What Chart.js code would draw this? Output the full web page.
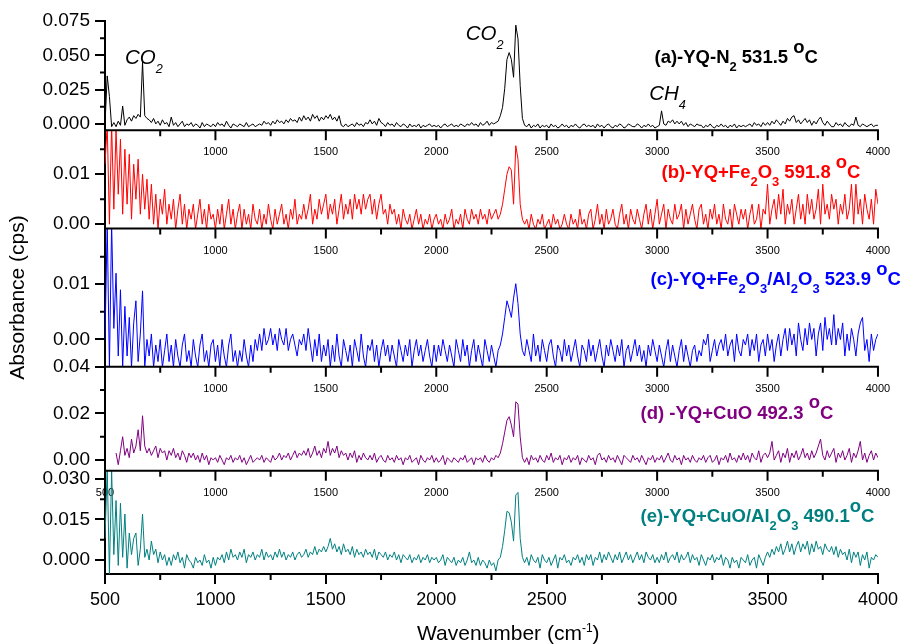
<!DOCTYPE html>
<html>
<head>
<meta charset="utf-8">
<title>FTIR spectra</title>
<script src="https://cdn.jsdelivr.net/npm/chart.js@4.4.1/dist/chart.umd.min.js"></script>
<style>
  html, body { margin: 0; padding: 0; background: #fff; }
  canvas { display: block; }
</style>
</head>
<body>
<canvas id="spectra" width="903" height="644"></canvas>
<script>
// Wavenumber grid (cm-1), one row per 100 cm-1
const wavenumbers = [
  500, 510, 520, 530, 540, 550, 560, 570, 580, 590,
  600, 610, 620, 630, 640, 650, 660, 670, 680, 690,
  700, 710, 720, 730, 740, 750, 760, 770, 780, 790,
  800, 810, 820, 830, 840, 850, 860, 870, 880, 890,
  900, 910, 920, 930, 940, 950, 960, 970, 980, 990,
  1000, 1010, 1020, 1030, 1040, 1050, 1060, 1070, 1080, 1090,
  1100, 1110, 1120, 1130, 1140, 1150, 1160, 1170, 1180, 1190,
  1200, 1210, 1220, 1230, 1240, 1250, 1260, 1270, 1280, 1290,
  1300, 1310, 1320, 1330, 1340, 1350, 1360, 1370, 1380, 1390,
  1400, 1410, 1420, 1430, 1440, 1450, 1460, 1470, 1480, 1490,
  1500, 1510, 1520, 1530, 1540, 1550, 1560, 1570, 1580, 1590,
  1600, 1610, 1620, 1630, 1640, 1650, 1660, 1670, 1680, 1690,
  1700, 1710, 1720, 1730, 1740, 1750, 1760, 1770, 1780, 1790,
  1800, 1810, 1820, 1830, 1840, 1850, 1860, 1870, 1880, 1890,
  1900, 1910, 1920, 1930, 1940, 1950, 1960, 1970, 1980, 1990,
  2000, 2010, 2020, 2030, 2040, 2050, 2060, 2070, 2080, 2090,
  2100, 2110, 2120, 2130, 2140, 2150, 2160, 2170, 2180, 2190,
  2200, 2210, 2220, 2230, 2240, 2250, 2260, 2270, 2280, 2290,
  2300, 2310, 2320, 2330, 2340, 2350, 2360, 2370, 2380, 2390,
  2400, 2410, 2420, 2430, 2440, 2450, 2460, 2470, 2480, 2490,
  2500, 2510, 2520, 2530, 2540, 2550, 2560, 2570, 2580, 2590,
  2600, 2610, 2620, 2630, 2640, 2650, 2660, 2670, 2680, 2690,
  2700, 2710, 2720, 2730, 2740, 2750, 2760, 2770, 2780, 2790,
  2800, 2810, 2820, 2830, 2840, 2850, 2860, 2870, 2880, 2890,
  2900, 2910, 2920, 2930, 2940, 2950, 2960, 2970, 2980, 2990,
  3000, 3010, 3020, 3030, 3040, 3050, 3060, 3070, 3080, 3090,
  3100, 3110, 3120, 3130, 3140, 3150, 3160, 3170, 3180, 3190,
  3200, 3210, 3220, 3230, 3240, 3250, 3260, 3270, 3280, 3290,
  3300, 3310, 3320, 3330, 3340, 3350, 3360, 3370, 3380, 3390,
  3400, 3410, 3420, 3430, 3440, 3450, 3460, 3470, 3480, 3490,
  3500, 3510, 3520, 3530, 3540, 3550, 3560, 3570, 3580, 3590,
  3600, 3610, 3620, 3630, 3640, 3650, 3660, 3670, 3680, 3690,
  3700, 3710, 3720, 3730, 3740, 3750, 3760, 3770, 3780, 3790,
  3800, 3810, 3820, 3830, 3840, 3850, 3860, 3870, 3880, 3890,
  3900, 3910, 3920, 3930, 3940, 3950, 3960, 3970, 3980, 3990,
  4000
];

// Absorbance in 10^-3 cps, same row layout as the grid

// (a) YQ-N2, 531.5 C
const absN2 = [
  0, 35, 20, -2, 1, -2, 2, -1, 13, -1,
  3, 5, 2, 6, 4, 7, 5, 45, 6, 4,
  3, 1, 4, 0, 2, -1, 3, 0, 1, -2,
  5, -1, 1, -2, 0, 2, -2, 0, -1, 1,
  -2, 0, -1, -3, 1, -2, 0, -1, -2, 0,
  -2, 1, -1, 0, -2, 2, -1, -3, 0, -1,
  -2, 0, -1, -2, 1, -2, -1, 0, -2, -1,
  0, -1, 2, 0, 1, -1, 2, 0, 3, 1,
  2, 0, 3, 1, 4, 2, 3, 1, 5, 2,
  6, 3, 5, 2, 7, 4, 6, 2, 5, 3,
  6, 4, 7, 3, 5, 2, 6, -1, -2, 0,
  -2, -1, 0, -2, 1, -1, 0, -2, 1, 0,
  3, 0, 2, -1, 4, 1, 0, -2, 1, -1,
  0, -2, 1, -1, -2, 0, -1, -3, 0, -2,
  -1, -2, 0, -3, -1, -2, -1, 0, -2, -1,
  -2, -1, -3, -1, 0, -2, -1, 0, -2, -1,
  -2, 0, -1, -2, 0, -1, 1, -1, 0, -2,
  1, -1, 0, 2, -1, 1, 0, 1, 2, 6,
  12, 26, 47, 52, 47, 34, 72, 62, 28, 4,
  -1, -2, 0, -3, -1, -2, 0, -3, -1, -2,
  -1, -3, 0, -2, -1, -3, -2, 0, -2, -1,
  -3, -1, -2, 0, -2, -3, -1, 0, -2, -1,
  -2, -1, -3, 0, -2, -1, -3, -1, 0, -2,
  -3, -1, -2, 0, -1, -3, -2, 0, -1, -2,
  -2, 0, -1, -3, -1, -2, 0, -2, -1, -3,
  -2, -1, 9.5, 0, -1, 2, 1, 3, 0, 2,
  0, 2, -1, 1, -2, 0, -1, -2, 0, -1,
  -1, -3, -1, -2, 0, -2, -3, -1, -2, 0,
  -2, -1, -3, -1, -2, 0, -3, -1, -2, -1,
  -2, -1, 0, -2, 1, -1, 0, -2, 1, -1,
  1, -1, 2, 0, 3, 1, -1, 2, 0, 4,
  2, 5, 6, 1, 3, 0, 2, 4, 1, 3,
  -1, 2, 0, 3, 5, 1, -1, 2, 0, -2,
  -2, 1, -1, 0, -2, 1, -1, -2, 0, -1,
  5, -1, -2, 0, -1, -2, -1, 0, -2, -1,
  -1
];

// (b) YQ+Fe2O3, 591.8 C
const absFe2O3 = [
  12, 20, 0, 20, 3, 19, 6, 17, 2, 15,
  4, 14, 1, 12, 5, 13, 2, 10, 3, 9,
  1, 8, 0, 6, -1, 5, 2, 7, 0, 4,
  1, 5, -1, 3, 6, 0, 4, -1, 3, 1,
  4, -1, 2, 5, 0, 3, -1, 4, 1, 2,
  -1, 3, 0, 4, -1, 2, 5, 0, 3, -1,
  2, 4, -1, 3, 0, 2, -1, 4, 1, 0,
  3, -1, 2, 0, 4, 1, -1, 3, 0, 2,
  4, 0, 2, -1, 3, 1, 5, 0, 2, 1,
  4, 1, 3, 6, 0, 3, 1, 5, 2, 4,
  6, 1, 4, 2, 5, 0, 3, 6, 1, 4,
  2, 5, 1, 6, 3, 5, 2, 6, 3, 5,
  6, 2, 5, 1, 4, 6, 2, 3, 0, 4,
  2, 3, 0, 2, -1, 3, 1, 0, 2, -1,
  1, 3, 0, 2, -1, 1, 0, 2, -1, 1,
  2, 0, 1, -1, 2, 0, 1, 3, -1, 1,
  0, 2, -1, 3, 1, 0, 3, 1, 2, 0,
  3, 1, 2, 0, 3, 1, 2, 3, 1, 2,
  4, 7, 10, 11.5, 10.8, 4, 15.7, 13, 4, 1,
  0, 1, -1, 2, 0, -1, 1, 0, 2, -1,
  0, 1, -1, 2, 0, 1, -1, 0, 2, 0,
  -1, 2, 0, 1, -1, 3, 0, 1, -1, 2,
  3, -1, 1, 4, 0, 2, -1, 3, 0, 1,
  3, 0, -1, 2, 4, 0, 2, -1, 3, 1,
  0, 3, 1, -1, 2, 4, 0, 3, -1, 2,
  5, 0, 2, 4, -1, 3, 1, 0, 4, 1,
  2, 4, -1, 3, 0, 2, 4, 1, -1, 3,
  4, 0, 2, -1, 3, 1, 4, 0, 2, -1,
  4, 1, 0, 3, -1, 4, 2, 0, 3, 1,
  3, -1, 2, 4, 0, 1, 4, -1, 3, 2,
  8, 0, 3, 5, 1, 6, 2, 7, 0, 4,
  2, 5, 0, 3, 6, 1, 4, 0, 6, 2,
  5, 1, 3, 7, 0, 8, 2, 4, 1, 6,
  3, 5, 0, 4, 2, 6, 1, 3, 8, 0,
  8, 2, 5, 0, 6, 3, 1, 5, 0, 7,
  4
];

// (c) YQ+Fe2O3/Al2O3, 523.9 C
const absFe2O3Al2O3 = [
  0, 21, -5, 21, 2, 12, -3, 9, -5, 6,
  -3, 4, -5, 3, 7, -4, 1, 8.8, -5, 0,
  -3, 1, -5, -1, -4, 0, -5, -2, 1, -4,
  -1, -5, 0, -3, -5, -1, 1, -4, -2, -5,
  0, -3, -5, -1, 1, -4, -2, -5, -1, 0,
  -4, -1, -5, 0, -3, -5, -1, 1, -4, -2,
  -5, -2, -4, 0, -3, -5, -1, -4, 0, -2,
  1, -2, 2, -1, 0, 2, -1, 1, -2, 2,
  0, -1, 2, -2, 0, 1, -1, -3, 0, -1,
  1, -2, 2, -1, -4, 0, -3, 1, -4, -1,
  -3, 0, -5, -1, -4, 1, -3, -5, 0, -2,
  -4, -1, -5, 0, -2, -4, 1, -3, -5, -1,
  -2, 0, -4, -1, -5, -2, 0, -3, -1, -4,
  -1, -3, -5, 0, -2, -4, -1, -3, 0, -5,
  -2, 0, -3, -1, -4, -2, 0, -3, -5, -1,
  -4, -1, -3, 0, -2, -4, -1, -3, -5, 0,
  -2, -4, 0, -3, -1, -5, -2, 0, -4, -1,
  -3, -5, 0, -2, -4, -1, -3, -5, -2, -1,
  1, 4, 7, 5.6, 4, 7.5, 10.1, 6.5, 1, -2,
  -3, 0, -2, -4, 1, -3, -1, -4, 0, -2,
  -4, -1, 0, -3, -5, -1, -2, -4, 0, -3,
  -1, -4, -2, 0, -3, -5, -1, -2, -4, 0,
  -3, -1, -4, -2, 0, -3, -5, -1, -3, 0,
  -2, -4, -1, -3, 0, -5, -2, -1, -4, -2,
  0, -3, -1, -4, -2, -5, -1, -3, 0, -2,
  -4, -1, -3, -5, -2, 0, -4, -1, -3, -5,
  -2, 0, -4, -1, -3, -5, -2, -1, -4, -2,
  -3, 0, -1, 1, -4, -2, 0, -3, -1, 0,
  -2, 1, -3, -1, 0, -4, 1, -2, -3, 0,
  -1, 1, -3, 0, -2, 1, -4, -1, 0, -3,
  1, -2, 0, -4, -1, 1, -3, 0, 2, -2,
  2, -1, 1, -3, 3, 0, -2, 2, -1, 3,
  0, 2, -3, 1, 3, -2, 4, 0, 2, -1,
  4.5, -1, 2, 0, 3, -3, 1, -2, 2, 0,
  -3, 1, 3, 4, -2, 0, -4, 1, -2, 0,
  1
];

// (d) YQ+CuO, 492.3 C (trace starts near 545 cm-1)
const absCuO = [
  null, null, null, null, null, 3, -2, 4, 10, 2,
  5, 1, 9, 3, 6, 13, 4, 19, 6, 3,
  5, 2, 4, 6, 1, 5, 3, 4, 0, 4,
  2, 5, 1, 3, 0, 4, 2, -1, 3, 1,
  3, 0, 2, -1, 3, 0, 2, -2, 1, 0,
  1, -1, 2, 0, -2, 1, 0, 2, -1, 1,
  0, 2, -1, 1, -2, 0, 2, -1, 0, 1,
  0, 2, -1, 1, 0, -1, 2, 0, 1, 3,
  0, 2, 1, 3, 0, 2, 4, 1, 3, 2,
  4, 2, 5, 1, 3, 6, 2, 4, 1, 5,
  3, 8, 2, 5, 3, 6, 1, 4, 2, 3,
  0, 3, 1, 4, -1, 2, 0, 3, 1, 0,
  2, 0, 3, -1, 1, 2, 0, -1, 2, 0,
  1, -1, 2, 0, 1, -2, 1, 0, 2, -1,
  0, 1, -2, 2, 0, -1, 1, 0, 2, -1,
  1, -1, 0, 2, -2, 1, 0, -1, 1, 0,
  -1, 1, 0, 2, -1, 0, 1, -2, 1, 0,
  1, -1, 2, 0, -1, 1, 0, 2, 1, 3,
  7, 12, 17, 18.6, 15, 10, 25, 24, 10, 1,
  -1, 1, -2, 2, 0, 1, -1, 2, 0, -1,
  2, 0, 3, -1, 1, 0, 2, -2, 1, 0,
  2, -1, 1, 0, 2, -2, 1, 0, -1, 2,
  0, 1, -2, 2, 3, 0, 1, -1, 2, 0,
  1, -1, 2, 0, -2, 2, 1, 0, -1, 2,
  0, 1, -1, 2, 0, -2, 1, 0, 2, -1,
  1, 0, 2, -1, 1, 3, 0, -1, 2, 0,
  1, -2, 2, 0, 1, -1, 2, 0, -1, 1,
  0, 2, -1, 1, 2, -1, 0, 2, -2, 1,
  0, 2, -1, 3, 0, 1, -1, 2, 0, 3,
  0, 2, -1, 3, 1, 0, 4, -1, 2, 3,
  1, 3, 8, 0, 2, 4, -1, 3, 1, 5,
  -1, 3, 1, 4, 0, 2, 5, 1, 3, 0,
  4, 1, 3, 6, 9, 2, 0, 4, 1, 3,
  5, -1, 3, 1, 4, 0, 2, 5, -1, 3,
  1, 4, 8, 0, 3, -1, 2, 4, 0, 3,
  1
];

// (e) YQ+CuO/Al2O3, 490.1 C
const absCuOAl2O3 = [
  8, 34, -5, 33, 2, 22, -2, 21, 1, 17,
  -3, 10, 2, 8, 10, -2, 4, 17, 1, 4,
  0, 7, 2, 4, -1, 3, 0, 2, -2, 1,
  -2, 2, 0, 3, -1, 1, -3, 2, 0, -1,
  -3, 1, -1, 0, -2, 2, -1, 0, -3, 1,
  -2, 1, 0, 2, -1, 3, 0, 4, 1, 2,
  0, 3, 1, 4, -1, 2, 1, 3, 0, 2,
  1, 4, 0, 3, 1, 2, 0, 3, 1, 4,
  1, 3, 0, 2, 1, 3, 0, 2, 3, 1,
  2, 4, 1, 3, 2, 5, 2, 4, 3, 5,
  3, 5, 8, 4, 6, 3, 5, 2, 6, 3,
  4, 2, 5, 1, 4, 2, 3, 1, 4, 2,
  3, 1, 4, 0, 3, 2, 1, 3, 0, 2,
  1, 3, 0, 2, -1, 2, 1, 0, 2, -1,
  1, 0, 2, -1, 1, 0, 2, -1, 1, 0,
  1, -1, 0, 2, -2, 1, 0, -1, 1, -2,
  0, -1, 1, -2, 0, 3, -1, 0, -2, 1,
  -2, 0, -1, -3, 0, -2, -1, -4, 0, 1,
  5, 11, 18, 17.5, 14, 7, 24, 25, 8, 1,
  -1, 1, -2, 2, 0, -1, 1, -3, 2, 0,
  -1, 1, -2, 0, 2, -3, 1, 0, 2, -1,
  0, -2, 1, 0, 2, -1, 1, -2, 2, 0,
  2, -2, 1, 0, 3, -1, 2, 0, 3, 1,
  -1, 2, 0, 3, -1, 1, 3, 0, 2, -1,
  1, 3, 0, 2, -1, 3, 1, 0, 2, -1,
  1, -1, 2, 0, 3, -1, 1, 2, 0, 3,
  -1, 2, 0, 1, 3, -1, 2, 0, 1, -2,
  2, 0, -2, 1, 0, 2, -1, 1, 0, 2,
  -2, 1, 0, -3, 1, -1, 0, -3, 1, 0,
  -1, 2, -2, 0, 1, -3, 2, 0, -2, 1,
  3, 1, 4, 2, 5, 3, 6, 2, 4, 7,
  3, 6, 2, 5, 7, 3, 6, 4, 7, 2,
  6, 3, 7, 4, 5, 2, 6, 4, 3, 5,
  2, 5, 1, 4, 2, 3, 0, 4, -1, 3,
  1, 3, -2, 2, 0, 3, -3, 1, 0, 2,
  1
];

// axis ticks (y values in 10^-3 cps)
const xMajorTicks = [500, 1000, 1500, 2000, 2500, 3000, 3500, 4000];
const xMinorTicks = [750, 1250, 1750, 2250, 2750, 3250, 3750];
const yTicksA = [0, 25, 50, 75];
const yMinorA = [12.5, 37.5, 62.5];
const yTicksB = [0, 10];
const yMinorB = [5, 15];
const yTicksC = [0, 10];
const yMinorC = [5, 15];
const yTicksD = [0, 20, 40];
const yMinorD = [10, 30];
const yTicksE = [0, 15, 30];
const yMinorE = [7.5, 22.5];

const FONT = '"Liberation Sans", Arial, Helvetica, sans-serif';
Chart.defaults.font.family = FONT;
Chart.defaults.color = '#000';

const series = [
  { label: 'YQ-N2', data: absN2, axis: 'yA', color: '#000000' },
  { label: 'YQ+Fe2O3', data: absFe2O3, axis: 'yB', color: '#ff0000' },
  { label: 'YQ+Fe2O3/Al2O3', data: absFe2O3Al2O3, axis: 'yC', color: '#0000ff' },
  { label: 'YQ+CuO', data: absCuO, axis: 'yD', color: '#800080' },
  { label: 'YQ+CuO/Al2O3', data: absCuOAl2O3, axis: 'yE', color: '#008080' }
];

// one y axis per panel, stacked top to bottom (higher weight sits higher)
function panelAxis(min, max, majors, decimals, weight, stackWeight) {
  return {
    type: 'linear',
    position: 'left',
    stack: 'panels',
    stackWeight: stackWeight,
    weight: weight,
    min: min,
    max: max,
    afterBuildTicks: s => { s.ticks = majors.map(v => ({ value: v })); },
    afterFit: s => { s.width = 105; },
    ticks: {
      autoSkip: false,
      padding: 5,
      color: '#000',
      font: { size: 19 },
      callback: v => (v / 1000).toFixed(decimals)
    },
    grid: { drawOnChartArea: false, tickLength: 10, color: '#000', lineWidth: 2 },
    border: { color: '#000', width: 2 }
  };
}

// text with sub/superscripts, drawn piece by piece
function drawRich(ctx, parts, x, y, size, style, color, subScale, subDrop) {
  let cx = x;
  ctx.fillStyle = color;
  ctx.textAlign = 'left';
  ctx.textBaseline = 'alphabetic';
  for (const [text, kind] of parts) {
    const fs = kind === 'sub' ? size * subScale : size;
    ctx.font = `${style} ${fs}px ${FONT}`;
    let dy = 0;
    if (kind === 'sub') dy = subDrop;
    if (kind === 'sup') dy = -size * 0.55;
    ctx.fillText(text, cx, y + dy);
    cx += ctx.measureText(text).width;
  }
}

const panelTitles = [
  { axis: 'yA', at: [2988, 44.3], color: '#000000',
    parts: [['(a)-YQ-N'], ['2', 'sub'], [' 531.5 '], ['o', 'sup'], ['C']] },
  { axis: 'yB', at: [3020, 9.3], color: '#ff0000',
    parts: [['(b)-YQ+Fe'], ['2', 'sub'], ['O'], ['3', 'sub'], [' 591.8 '], ['o', 'sup'], ['C']] },
  { axis: 'yC', at: [2970, 9.8], color: '#0000ff',
    parts: [['(c)-YQ+Fe'], ['2', 'sub'], ['O'], ['3', 'sub'], ['/Al'], ['2', 'sub'], ['O'], ['3', 'sub'], [' 523.9 '], ['o', 'sup'], ['C']] },
  { axis: 'yD', at: [2925, 17.8], color: '#800080',
    parts: [['(d) -YQ+CuO 492.3 '], ['o', 'sup'], ['C']] },
  { axis: 'yE', at: [2925, 14.1], color: '#008080',
    parts: [['(e)-YQ+CuO/Al'], ['2', 'sub'], ['O'], ['3', 'sub'], [' 490.1'], ['o', 'sup'], ['C']] }
];

const bandNotes = [
  { at: [590, 44], parts: [['CO'], ['2', 'sub']] },
  { at: [2133, 61.5], parts: [['CO'], ['2', 'sub']] },
  { at: [2964, 17.3], parts: [['CH'], ['4', 'sub']] }
];

const innerAxes = ['yA', 'yB', 'yC', 'yD'];
const allAxes = ['yA', 'yB', 'yC', 'yD', 'yE'];
const minorByAxis = { yA: yMinorA, yB: yMinorB, yC: yMinorC, yD: yMinorD, yE: yMinorE };

const panelDecor = {
  id: 'panelDecor',
  beforeDatasetsDraw(chart) {
    // small wavenumber labels under each inner axis, traces go over them
    const { ctx } = chart;
    const x = chart.scales.x;
    ctx.save();
    ctx.font = `11px ${FONT}`;
    ctx.fillStyle = '#000';
    ctx.textAlign = 'center';
    ctx.textBaseline = 'middle';
    innerAxes.forEach(id => {
      const yb = chart.scales[id].bottom;
      xMajorTicks.forEach(v => {
        if (v === 500 && id !== 'yD') return;
        ctx.fillText(String(v), x.getPixelForValue(v), yb + 22);
      });
    });
    ctx.restore();
  },
  beforeDatasetDraw(chart, args) {
    const ys = args.meta.yScale;
    const area = chart.chartArea;
    chart.ctx.save();
    chart.ctx.beginPath();
    chart.ctx.rect(area.left, ys.top, area.right - area.left, ys.bottom - ys.top);
    chart.ctx.clip();
  },
  afterDatasetDraw(chart) {
    chart.ctx.restore();
  },
  afterDatasetsDraw(chart) {
    const { ctx, chartArea } = chart;
    const x = chart.scales.x;
    ctx.save();
    ctx.strokeStyle = '#000';
    ctx.lineWidth = 2;

    // inner x axes with their tick marks
    innerAxes.forEach(id => {
      const yb = chart.scales[id].bottom;
      ctx.beginPath();
      ctx.moveTo(chartArea.left - 1, yb);
      ctx.lineTo(chartArea.right + 1, yb);
      xMajorTicks.forEach(v => {
        const px = x.getPixelForValue(v);
        ctx.moveTo(px, yb);
        ctx.lineTo(px, yb + 10);
      });
      ctx.stroke();
    });

    // minor x ticks on every panel
    allAxes.forEach(id => {
      const yb = chart.scales[id].bottom;
      ctx.beginPath();
      xMinorTicks.forEach(v => {
        const px = x.getPixelForValue(v);
        ctx.moveTo(px, yb);
        ctx.lineTo(px, yb + 6);
      });
      ctx.stroke();
    });

    // minor y ticks
    allAxes.forEach(id => {
      const ys = chart.scales[id];
      ctx.beginPath();
      minorByAxis[id].forEach(v => {
        const py = ys.getPixelForValue(v);
        ctx.moveTo(chartArea.left - 5, py);
        ctx.lineTo(chartArea.left, py);
      });
      ctx.stroke();
    });

    // panel captions
    panelTitles.forEach(t => {
      const px = x.getPixelForValue(t.at[0]);
      const py = chart.scales[t.axis].getPixelForValue(t.at[1]);
      drawRich(ctx, t.parts, px, py, 18.5, 'bold', t.color, 0.7, 8);
    });

    // band assignments in panel (a)
    bandNotes.forEach(n => {
      const px = x.getPixelForValue(n.at[0]);
      const py = chart.scales.yA.getPixelForValue(n.at[1]);
      drawRich(ctx, n.parts, px, py, 20.5, 'italic', '#000', 0.62, 9);
    });

    // axis titles
    ctx.fillStyle = '#000';
    ctx.font = `21px ${FONT}`;
    ctx.save();
    ctx.translate(18, (chartArea.top + chartArea.bottom) / 2);
    ctx.rotate(-Math.PI / 2);
    ctx.textAlign = 'center';
    ctx.textBaseline = 'middle';
    ctx.fillText('Absorbance (cps)', 0, 0);
    ctx.restore();

    const tx = chartArea.left + 312;
    const ty = chart.height - 4;
    ctx.textAlign = 'left';
    ctx.textBaseline = 'alphabetic';
    ctx.font = `21px ${FONT}`;
    ctx.fillText('Wavenumber (cm', tx, ty);
    let cx = tx + ctx.measureText('Wavenumber (cm').width;
    ctx.font = `12px ${FONT}`;
    ctx.fillText('-1', cx, ty - 8);
    cx += ctx.measureText('-1').width;
    ctx.font = `21px ${FONT}`;
    ctx.fillText(')', cx, ty);
    ctx.restore();
  }
};

new Chart(document.getElementById('spectra'), {
  type: 'line',
  data: {
    datasets: series.map(s => ({
      label: s.label,
      data: wavenumbers.map((w, i) => ({ x: w, y: s.data[i] })),
      yAxisID: s.axis,
      borderColor: s.color,
      borderWidth: 1,
      pointRadius: 0,
      tension: 0,
      spanGaps: false,
      clip: 0
    }))
  },
  options: {
    responsive: false,
    animation: false,
    events: [],
    layout: { padding: { top: 21, right: 22.5, bottom: 0, left: 0 } },
    plugins: { legend: { display: false }, tooltip: { enabled: false } },
    scales: {
      x: {
        type: 'linear',
        position: 'bottom',
        min: 500,
        max: 4000,
        afterBuildTicks: s => { s.ticks = xMajorTicks.map(v => ({ value: v })); },
        afterFit: s => { s.height = 70; },
        ticks: { autoSkip: false, maxRotation: 0, padding: 5, color: '#000', font: { size: 18 }, callback: v => String(v) },
        grid: { drawOnChartArea: false, tickLength: 10, color: '#000', lineWidth: 2 },
        border: { color: '#000', width: 2 }
      },
      yA: panelAxis(-4.6, 75, yTicksA, 3, 5, 109.3),
      yB: panelAxis(-0.86, 18.8, yTicksB, 2, 4, 98.3),
      yC: panelAxis(-4.95, 20.1, yTicksC, 2, 3, 138.4),
      yD: panelAxis(-4.6, 40, yTicksD, 2, 2, 104),
      yE: panelAxis(-5.16, 33, yTicksE, 3, 1, 103.3)
    }
  },
  plugins: [panelDecor]
});
</script>
</body>
</html>
